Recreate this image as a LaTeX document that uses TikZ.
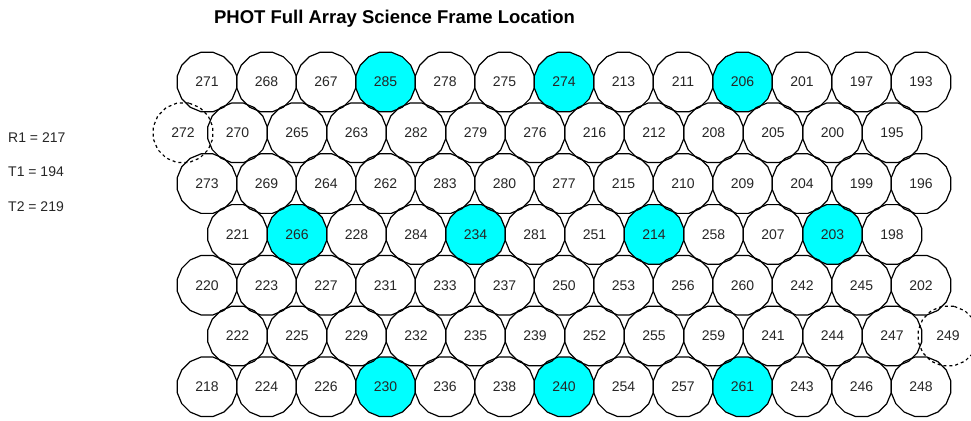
\documentclass[tikz,border=0pt]{standalone}
\usepackage{fontspec}
\setmainfont{Liberation Sans}
\usetikzlibrary{shapes.geometric}
\definecolor{aqua}{RGB}{0,255,255}
\pgfdeclarelayer{background}
\pgfsetlayers{background,main}
\begin{document}
\begin{tikzpicture}[x=1pt,y=-1pt,
  pix/.style={regular polygon, regular polygon sides=16, minimum size=60.7pt,
    inner sep=0pt, outer sep=0pt, draw=black, line width=1.2pt,
    font=\fontsize{14}{16}\selectfont, text=black!85},
  ghost/.style={pix, dashed},
  hotfill/.style={pix, draw=none, fill=aqua},
  lbl/.style={anchor=west, inner sep=0pt, font=\fontsize{14}{16}\selectfont, text=black!85},
  ttl/.style={inner sep=0pt, font=\fontsize{18.5}{20}\selectfont\bfseries}]
\useasboundingbox (0,0) rectangle (971,420);
\clip (0,0) rectangle (971,420);

\node[ttl] (title) at (394.5,19) {PHOT Full Array Science Frame Location};

\node[lbl] (r1) at (8,138) {R1 = 217};
\node[lbl] (t1) at (8,172) {T1 = 194};
\node[lbl] (t2) at (8,207) {T2 = 219};

% rows aligned on the main grid
\foreach \n [count=\i from 0] in {271,268,267,285,278,275,274,213,211,206,201,197,193}
  \node[pix] (p\n) at (207+59.5*\i, 82) {\n};
\foreach \n [count=\i from 0] in {273,269,264,262,283,280,277,215,210,209,204,199,196}
  \node[pix] (p\n) at (207+59.5*\i, 183.6) {\n};
\foreach \n [count=\i from 0] in {220,223,227,231,233,237,250,253,256,260,242,245,202}
  \node[pix] (p\n) at (207+59.5*\i, 285.2) {\n};
\foreach \n [count=\i from 0] in {218,224,226,230,236,238,240,254,257,261,243,246,248}
  \node[pix] (p\n) at (207+59.5*\i, 386.8) {\n};

% offset rows
\foreach \n [count=\i from 0] in {270,265,263,282,279,276,216,212,208,205,200,195}
  \node[pix] (p\n) at (237.5+59.5*\i, 132.8) {\n};
\foreach \n [count=\i from 0] in {221,266,228,284,234,281,251,214,258,207,203,198}
  \node[pix] (p\n) at (237.5+59.5*\i, 234.4) {\n};
\foreach \n [count=\i from 0] in {222,225,229,232,235,239,252,255,259,241,244,247}
  \node[pix] (p\n) at (237.5+59.5*\i, 336) {\n};

% dashed extra positions
\node[ghost] (p272) at (183,132.8) {272};
\node[ghost] (p249) at (948,336) {249};

% highlighted positions
\begin{pgfonlayer}{background}
\foreach \n in {285,274,206,266,234,214,203,230,240,261}
  \node[hotfill] (f\n) at (p\n) {};
\end{pgfonlayer}
\end{tikzpicture}
\end{document}
